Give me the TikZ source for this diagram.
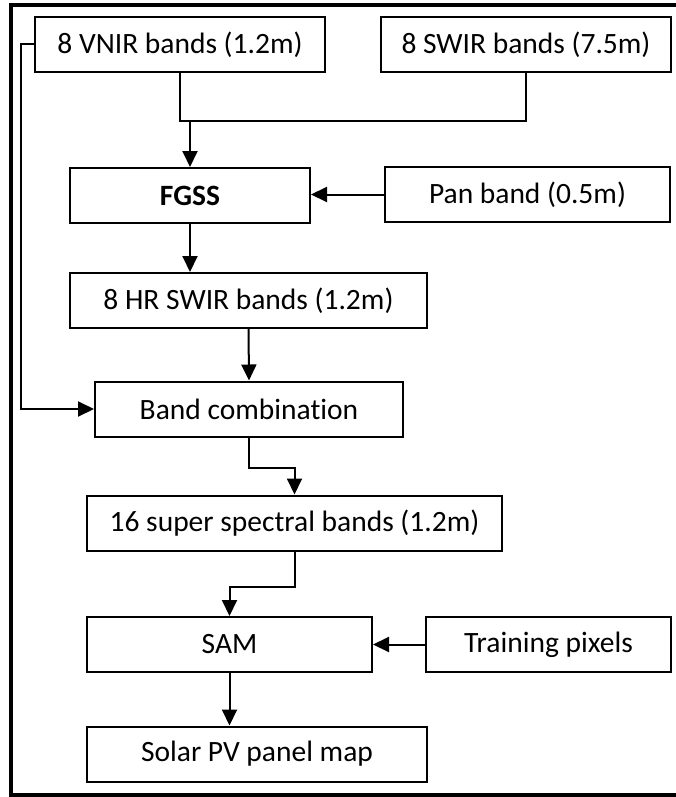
\documentclass[tikz,border=0pt]{standalone}
\usepackage{fontspec}
\setmainfont{Carlito}[Ligatures=NoCommon]
\usepackage{tikz}
\usetikzlibrary{arrows.meta,positioning,calc}

\begin{document}
\begin{tikzpicture}[x=1pt,y=-1pt,
    blk/.style={draw,line width=2pt,minimum height=55pt,inner sep=0pt,font=\fontsize{29.5}{33}\selectfont},
    link/.style={line width=2pt},
    arr/.style={link,-{Triangle[length=16pt,width=15pt]}}]
  \clip (0,0) rectangle (676,797);
  \fill[white] (0,0) rectangle (676,797);
  % outer frame (right side falls outside the picture)
  \draw[line width=4pt] (11,5) rectangle (690,795);
  % boxes
  \node[blk,minimum width=290pt] (vnir)  at (180,44.5)  {8 VNIR bands (1.2m)};
  \node[blk,minimum width=290pt] (swir)  at (526,44.5)  {8 SWIR bands (7.5m)};
  \node[blk,minimum width=240pt] (fgss)  at (190,195.5) {\textbf{FGSS}};
  \node[blk,minimum width=285pt] (pan)   at (527.5,194.5) {Pan band (0.5m)};
  \node[blk,minimum width=357pt] (hr)    at (248.5,300.5) {8 HR SWIR bands (1.2m)};
  \node[blk,minimum width=308pt] (band)  at (249,409)   {Band combination};
  \node[blk,minimum width=415pt] (super) at (294.5,523) {16 super spectral bands (1.2m)};
  \node[blk,minimum width=285pt] (sam)   at (229.5,644.5) {SAM};
  \node[blk,minimum width=245pt] (train) at (548.5,644.5) {Training pixels};
  \node[blk,minimum width=340pt] (solar) at (257,754)   {Solar PV panel map};
  % connectors
  \coordinate (jn) at (190,120);
  \draw[link] (vnir.south) -- ++(0,48) -| (swir.south);
  \draw[arr] (jn) -- (fgss.north);
  \draw[arr] (pan.west) -- (pan.west -| fgss.east);
  \draw[arr] (vnir.west) -- ++(-13,0) |- (band.west);
  \draw[arr] (fgss.south) -- (fgss.south |- hr.north);
  \draw[arr] (hr.south) -- (band.north);
  \draw[arr] (band.south) -- ++(0,30) -| (super.north);
  \draw[arr] (super.south) -- ++(0,35) -| (sam.north);
  \draw[arr] (train.west) -- (sam.east);
  \draw[arr] (sam.south) -- (sam.south |- solar.north);
\end{tikzpicture}
\end{document}
